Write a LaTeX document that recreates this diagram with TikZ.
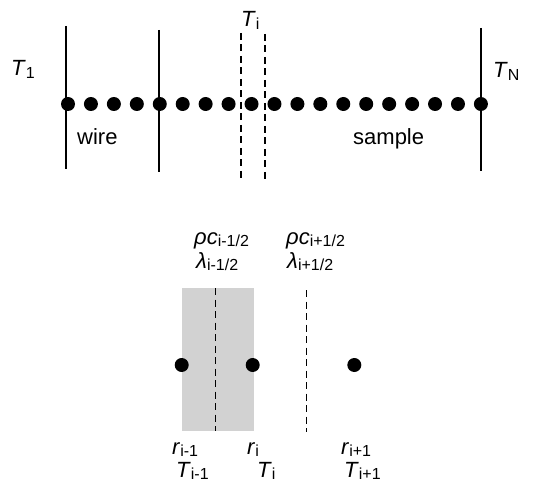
\documentclass[tikz,border=0pt]{standalone}
\usepackage{fontspec}
\setmainfont{Liberation Sans}
\newcommand{\vsub}[2]{\textit{#1}\raisebox{-2.5pt}{\fontsize{16}{16}\selectfont #2}}
\begin{document}
\begin{tikzpicture}[x=1pt,y=-1pt,
  dot/.style={circle,fill=black,inner sep=0pt,minimum size=14pt},
  lab/.style={font=\fontsize{22}{25}\selectfont,inner sep=0pt,anchor=base west},
  solidline/.style={line width=1.3pt},
  dashline/.style={line width=1.3pt,dash pattern=on 7pt off 4.5pt}]
\useasboundingbox (0,0) rectangle (540,486);
% top: grid of points
\coordinate (s1t) at (66,26);  \coordinate (s1b) at (66,169);
\coordinate (s2t) at (159,30); \coordinate (s2b) at (159,172);
\coordinate (s3t) at (481,28); \coordinate (s3b) at (481,171);
\coordinate (q1t) at (241,33); \coordinate (q1b) at (241,178);
\coordinate (q2t) at (265,34); \coordinate (q2b) at (265,179);
\draw[solidline] (s1t) -- (s1b);
\draw[solidline] (s2t) -- (s2b);
\draw[solidline] (s3t) -- (s3b);
\draw[dashline] (q1t) -- (q1b);
\draw[dashline] (q2t) -- (q2b);
\foreach \k in {0,...,18} \node[dot] (d\k) at ({68+\k*22.94},104) {};
\node[lab] (t1) at (11,76) {\vsub{T}{1}};
\node[lab] (tn) at (493,78) {\vsub{T}{N}};
\node[lab] (ti) at (241,27) {\vsub{T}{i}};
\node[lab] (wire) at (77,145) {wire};
\node[lab] (sample) at (353,145) {sample};
% bottom: control volume
\fill[gray!35] (181.7,288) rectangle (254,431);
\coordinate (h1t) at (215.7,288); \coordinate (h1b) at (215.7,431);
\coordinate (h2t) at (306.7,290); \coordinate (h2b) at (306.7,432);
\draw[dashline] (h1t) -- (h1b);
\draw[dashline] (h2t) -- (h2b);
\node[dot] (p1) at (181.7,365) {};
\node[dot] (p2) at (252.7,365) {};
\node[dot] (p3) at (354.3,365) {};
\node[lab] (rc1) at (194,244) {\vsub{ρc}{i-1/2}};
\node[lab] (la1) at (196,268) {\vsub{λ}{i-1/2}};
\node[lab] (rc2) at (286,244) {\vsub{ρc}{i+1/2}};
\node[lab] (la2) at (287,268) {\vsub{λ}{i+1/2}};
\node[lab] (r1) at (172,454) {\vsub{r}{i-1}};
\node[lab] (T1b) at (176,477) {\vsub{T}{i-1}};
\node[lab] (r2) at (247,454) {\vsub{r}{i}};
\node[lab] (T2b) at (257,477) {\vsub{T}{i}};
\node[lab] (r3) at (341,454) {\vsub{r}{i+1}};
\node[lab] (T3b) at (344,477) {\vsub{T}{i+1}};
\end{tikzpicture}
\end{document}
